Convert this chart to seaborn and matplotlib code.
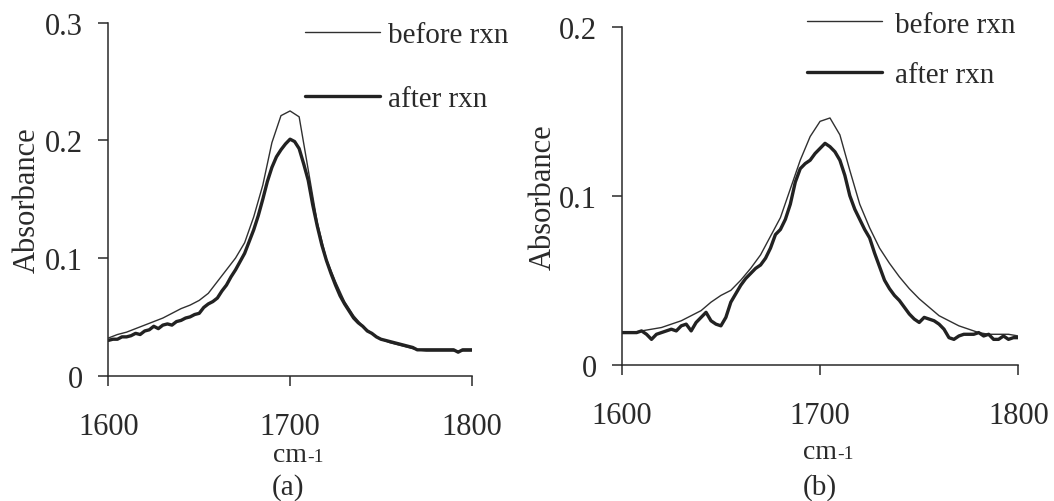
import numpy as np
import pandas as pd
import matplotlib
matplotlib.use("Agg")
import matplotlib.pyplot as plt
import seaborn as sns

# ---------------- data ----------------
wn_5 = list(range(1600, 1801, 5))            # wavenumber grid, 5 cm-1
wn_25 = [1600 + 2.5 * i for i in range(81)]  # wavenumber grid, 2.5 cm-1

a_before = [0.032, 0.035, 0.037, 0.040, 0.043, 0.046, 0.049, 0.053, 0.057, 0.060,
            0.064, 0.070, 0.080, 0.090, 0.100, 0.113, 0.135, 0.162, 0.198, 0.221,
            0.225, 0.220, 0.175, 0.130, 0.099, 0.080, 0.063, 0.051, 0.042, 0.036,
            0.031, 0.028, 0.026, 0.024, 0.022, 0.021, 0.021, 0.021, 0.021, 0.021,
            0.021]

a_after = [0.030, 0.031, 0.031, 0.033, 0.033, 0.034, 0.036, 0.035, 0.038, 0.039,
           0.042, 0.040, 0.043, 0.044, 0.043, 0.046, 0.047, 0.049, 0.050, 0.052,
           0.053, 0.058, 0.061, 0.063, 0.066, 0.072, 0.077, 0.084, 0.090, 0.097,
           0.104, 0.114, 0.124, 0.136, 0.150, 0.165, 0.177, 0.186, 0.192, 0.197,
           0.201, 0.199, 0.193, 0.180, 0.166, 0.145, 0.127, 0.111, 0.098, 0.087,
           0.077, 0.068, 0.061, 0.055, 0.049, 0.045, 0.042, 0.038, 0.036, 0.033,
           0.031, 0.030, 0.029, 0.028, 0.027, 0.026, 0.025, 0.024, 0.022, 0.022,
           0.022, 0.022, 0.022, 0.022, 0.022, 0.022, 0.022, 0.020, 0.022, 0.022,
           0.022]

b_before = [0.019, 0.019, 0.020, 0.021, 0.022, 0.024, 0.026, 0.029, 0.032, 0.037,
            0.041, 0.044, 0.050, 0.057, 0.065, 0.076, 0.087, 0.104, 0.121, 0.135,
            0.144, 0.146, 0.136, 0.115, 0.095, 0.081, 0.069, 0.060, 0.052, 0.045,
            0.039, 0.034, 0.029, 0.026, 0.023, 0.021, 0.019, 0.018, 0.018, 0.018,
            0.017]

b_after = [0.019, 0.019, 0.019, 0.019, 0.020, 0.018, 0.015, 0.018, 0.019, 0.020,
           0.021, 0.020, 0.023, 0.024, 0.020, 0.025, 0.028, 0.031, 0.026, 0.024,
           0.023, 0.028, 0.037, 0.042, 0.047, 0.051, 0.054, 0.057, 0.059, 0.063,
           0.069, 0.077, 0.080, 0.086, 0.095, 0.108, 0.116, 0.119, 0.121, 0.125,
           0.128, 0.131, 0.129, 0.126, 0.121, 0.112, 0.100, 0.092, 0.086, 0.080,
           0.075, 0.066, 0.058, 0.050, 0.045, 0.041, 0.038, 0.034, 0.030, 0.027,
           0.025, 0.028, 0.027, 0.026, 0.024, 0.021, 0.016, 0.015, 0.017, 0.018,
           0.018, 0.018, 0.019, 0.017, 0.018, 0.015, 0.015, 0.017, 0.015, 0.016,
           0.016]

series_labels = ["before rxn", "after rxn"]
x_ticks = [1600, 1700, 1800]
a_yticks = [0, 0.1, 0.2, 0.3]
b_yticks = [0, 0.1, 0.2]
a_ytick_labels = ["0", "0.1", "0.2", "0.3"]
b_ytick_labels = ["0", "0.1", "0.2"]
panel_labels = ["(a)", "(b)"]

# ---------------- style ----------------
sns.set_style("ticks")
plt.rcParams["font.family"] = ["Liberation Serif", "DejaVu Serif"]
INK = "#2a2a2a"
plt.rcParams["text.color"] = INK
plt.rcParams["axes.labelcolor"] = INK
plt.rcParams["xtick.color"] = INK
plt.rcParams["ytick.color"] = INK
plt.rcParams["axes.edgecolor"] = INK


def make_df(before_x, before_y, after_x, after_y):
    d1 = pd.DataFrame({"wn": before_x, "A": before_y, "series": series_labels[0]})
    d2 = pd.DataFrame({"wn": after_x, "A": after_y, "series": series_labels[1]})
    return pd.concat([d1, d2], ignore_index=True)


fig = plt.figure(figsize=(10.54, 5.02), dpi=100)
axA = fig.add_axes([0.1028, 0.2496, 0.3448, 0.7032])
axB = fig.add_axes([0.5899, 0.2715, 0.3763, 0.6733])

panels = [
    (axA, make_df(wn_5, a_before, wn_25, a_after), (0, 0.3), a_yticks, a_ytick_labels,
     (0.541, 1.002), 1.28, 0.27, -0.182, -0.188, 288),
    (axB, make_df(wn_5, b_before, wn_25, b_after), (0, 0.2), b_yticks, b_ytick_labels,
     (0.468, 1.046), 0.84, 0.42, -0.161, -0.220, 820),
]

for i, (ax, df, ylim, yt, ytl, leg_anchor, lspace, tpad, ylab_x, xlab_y, plab_x) in enumerate(panels):
    sns.lineplot(data=df, x="wn", y="A", hue="series", size="series",
                 hue_order=series_labels, size_order=series_labels,
                 palette={series_labels[0]: "#303030", series_labels[1]: "#222222"},
                 sizes={series_labels[0]: 1.0, series_labels[1]: 2.4},
                 ax=ax, sort=True, estimator=None)
    ax.set_xlim(1600, 1800)
    ax.set_ylim(*ylim)
    ax.set_xticks(x_ticks)
    ax.set_xticklabels([str(v) for v in x_ticks])
    ax.set_yticks(yt)
    ax.set_yticklabels(ytl)
    ax.tick_params(axis="both", direction="out", length=7, width=1.1, labelsize=22, pad=11)
    ax.tick_params(axis="x", pad=19)
    for s in ["top", "right"]:
        ax.spines[s].set_visible(False)
    for s in ["left", "bottom"]:
        ax.spines[s].set_linewidth(1.1)
    ax.set_ylabel("Absorbance", fontsize=22)
    ax.yaxis.set_label_coords(ylab_x, 0.5)
    ax.set_xlabel("cm", fontsize=20)
    ax.xaxis.set_label_coords(0.5, xlab_y)
    ax.annotate("-1", xy=(1, 0), xycoords=ax.xaxis.label, xytext=(0, 4.4),
                textcoords="offset points", ha="left", va="baseline", fontsize=14,
                color=INK)
    sns.move_legend(ax, loc="upper left", bbox_to_anchor=leg_anchor, title=None,
                    frameon=False, fontsize=21, handlelength=2.57, handletextpad=tpad,
                    labelspacing=lspace, borderpad=0, borderaxespad=0)
    fig.text(plab_x / 1054, 1 - 488 / 502, panel_labels[i], ha="center", va="center",
             fontsize=21, color=INK)

fig.savefig("out.png", dpi=100, facecolor="white")
